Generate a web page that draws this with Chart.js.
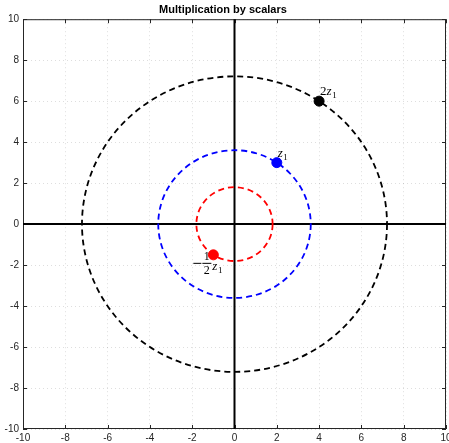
<!DOCTYPE html>
<html>
<head>
<meta charset="utf-8">
<script src="https://cdn.jsdelivr.net/npm/chart.js@4.4.0/dist/chart.umd.min.js"></script>
<style>
  html, body { margin: 0; padding: 0; background: #fff; }
  canvas { display: block; }
</style>
</head>
<body>
<canvas id="c" width="449" height="443"></canvas>
<script>
// Données : z1 et ses multiples
const pointLabels = ['z1', '2z1', '-1/2 z1'];
const pointX = [2, 4, -1];
const pointY = [3, 6, -1.5];
const axisTicks = [-10, -8, -6, -4, -2, 0, 2, 4, 6, 8, 10];

const colors = ['#0000ff', '#000000', '#ff0000'];

// Tracé des cercles, axes et cadre (style MATLAB)
const decor = {
  id: 'decor',
  beforeDatasetsDraw(chart) {
    const { ctx, chartArea: a, scales: { x, y } } = chart;
    ctx.save();

    // cadre
    ctx.strokeStyle = '#262626';
    ctx.lineWidth = 1;
    ctx.strokeRect(a.left + 0.5, a.top + 0.5, a.width - 1, a.height - 1);

    // graduations vers l'intérieur
    ctx.beginPath();
    axisTicks.forEach(v => {
      const px = Math.round(x.getPixelForValue(v)) + 0.5;
      const py = Math.round(y.getPixelForValue(v)) + 0.5;
      ctx.moveTo(px, a.bottom); ctx.lineTo(px, a.bottom - 4);
      ctx.moveTo(px, a.top); ctx.lineTo(px, a.top + 4);
      ctx.moveTo(a.left, py); ctx.lineTo(a.left + 4, py);
      ctx.moveTo(a.right, py); ctx.lineTo(a.right - 4, py);
    });
    ctx.stroke();

    // axes réel / imaginaire
    const x0 = x.getPixelForValue(0);
    const y0 = y.getPixelForValue(0);
    ctx.strokeStyle = '#000';
    ctx.lineWidth = 2;
    ctx.beginPath();
    ctx.moveTo(x0, a.top); ctx.lineTo(x0, a.bottom);
    ctx.moveTo(a.left, y0); ctx.lineTo(a.right, y0);
    ctx.stroke();

    // cercles de rayon |k z1|
    ctx.lineWidth = 1.8;
    ctx.setLineDash([6, 4]);
    pointX.forEach((px, i) => {
      const r = Math.hypot(px, pointY[i]);
      const rx = x.getPixelForValue(r) - x0;
      const ry = y0 - y.getPixelForValue(r);
      ctx.strokeStyle = colors[i];
      ctx.beginPath();
      ctx.ellipse(x0, y0, rx, ry, 0, 0, Math.PI * 2);
      ctx.stroke();
    });
    ctx.restore();
  },
  afterDatasetsDraw(chart) {
    const { ctx, scales: { x, y } } = chart;
    ctx.save();
    ctx.fillStyle = '#000';
    ctx.textBaseline = 'alphabetic';
    const serif = '"Liberation Serif", "DejaVu Serif", serif';

    const zSub = (left, base) => {
      ctx.font = 'italic 13px ' + serif;
      ctx.textAlign = 'left';
      ctx.fillText('z', left, base);
      const w = ctx.measureText('z').width;
      ctx.font = '9px ' + serif;
      ctx.fillText('1', left + w + 0.5, base + 3);
    };

    // z1
    let px = x.getPixelForValue(pointX[0]);
    let py = y.getPixelForValue(pointY[0]);
    zSub(px + 1, py - 6);

    // 2z1
    px = x.getPixelForValue(pointX[1]);
    py = y.getPixelForValue(pointY[1]);
    ctx.font = '13px ' + serif;
    ctx.textAlign = 'left';
    ctx.fillText('2', px + 1, py - 6);
    zSub(px + 1 + ctx.measureText('2').width, py - 6);

    // -1/2 z1
    px = x.getPixelForValue(pointX[2]);
    py = y.getPixelForValue(pointY[2]);
    ctx.fillRect(px - 20, py + 8, 8, 1);
    ctx.fillRect(px - 11, py + 8, 9, 1);
    ctx.font = '12px ' + serif;
    ctx.textAlign = 'center';
    ctx.fillText('1', px - 6.5, py + 5);
    ctx.fillText('2', px - 6.5, py + 19);
    zSub(px - 1, py + 15);

    ctx.restore();
  }
};

const tickFont = { family: '"Liberation Sans", Helvetica, Arial, sans-serif', size: 10 };

new Chart(document.getElementById('c'), {
  type: 'scatter',
  data: {
    datasets: pointLabels.map((lab, i) => ({
      label: lab,
      data: [{ x: pointX[i], y: pointY[i] }],
      backgroundColor: colors[i],
      borderColor: colors[i],
      pointRadius: 5,
      pointHoverRadius: 5
    }))
  },
  options: {
    responsive: false,
    animation: false,
    events: [],
    layout: { autoPadding: false, padding: { left: 0, right: 3, top: 0, bottom: 0 } },
    plugins: {
      legend: { display: false },
      tooltip: { enabled: false },
      title: {
        display: true,
        text: 'Multiplication by scalars',
        color: '#000',
        font: { family: tickFont.family, size: 11, weight: 'bold' },
        padding: { top: 3, bottom: 3 }
      }
    },
    scales: {
      x: {
        type: 'linear',
        min: -10, max: 10,
        afterBuildTicks: s => { s.ticks = axisTicks.map(v => ({ value: v })); },
        afterFit: s => { s.height = 14; s.paddingLeft = 0; s.paddingRight = 0; },
        ticks: { font: tickFont, color: '#262626', padding: 3, maxRotation: 0, autoSkip: false },
        grid: { color: 'rgba(0,0,0,0.13)', drawTicks: false, lineWidth: 1 },
        border: { display: false, dash: [1, 3] }
      },
      y: {
        type: 'linear',
        min: -10, max: 10,
        afterBuildTicks: s => { s.ticks = axisTicks.map(v => ({ value: v })); },
        afterFit: s => { s.width = 23; s.paddingTop = 0; s.paddingBottom = 0; },
        ticks: { font: tickFont, color: '#262626', padding: 4, autoSkip: false },
        grid: { color: 'rgba(0,0,0,0.13)', drawTicks: false, lineWidth: 1 },
        border: { display: false, dash: [1, 3] }
      }
    }
  },
  plugins: [decor]
});
</script>
</body>
</html>
